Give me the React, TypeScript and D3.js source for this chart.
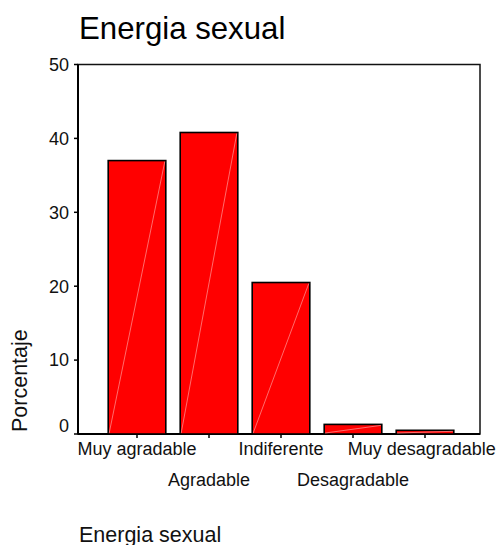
import React from "react";
import * as d3 from "d3";

const categories = ["Muy agradable", "Agradable", "Indiferente", "Desagradable", "Muy desagradable"];
const percentages = [37.0, 40.8, 20.5, 1.3, 0.5];
const yTicks = [0, 10, 20, 30, 40, 50];
const title = "Energia sexual";
const yLabel = "Porcentaje";
const xTitle = "Energia sexual";

const W = 499;
const H = 545;
const left = 78;
const right = 480;
const top = 64.5;
const bottom = 434;
const font = "'Liberation Sans', Arial, Helvetica, sans-serif";

export default function App() {
  const x = d3
    .scaleBand<string>()
    .domain(categories)
    .range([101, 461])
    .paddingInner(0.2)
    .paddingOuter(0.1);
  const y = d3.scaleLinear().domain([0, 50]).range([bottom, top]);

  return (
    <svg
      width={W}
      height={H}
      style={{ position: "absolute", left: 0, top: 0, background: "#fff" }}
      fontFamily={font}
    >
      <text x={79} y={39} fontSize={31.2} fill="#000">
        {title}
      </text>

      {/* frame */}
      <rect x={left} y={top} width={right - left} height={bottom - top} fill="none" stroke="#111" strokeWidth={1.5} />
      <line x1={left} x2={left} y1={top} y2={bottom} stroke="#000" strokeWidth={2} />
      <line x1={left} x2={right} y1={bottom} y2={bottom} stroke="#000" strokeWidth={2} />

      {/* y ticks */}
      {yTicks.map((t, i) => (
        <g key={t}>
          <line x1={left - 4} x2={left} y1={y(t)} y2={y(t)} stroke="#000" strokeWidth={1.5} />
          <text
            x={69}
            y={y(t) - (i === 0 ? 8.5 : 0)}
            dy="0.35em"
            textAnchor="end"
            fontSize={18}
            fill="#111"
          >
            {t}
          </text>
        </g>
      ))}

      {/* bars */}
      {categories.map((c, i) => {
        const x0 = x(c) as number;
        const bw = x.bandwidth();
        const yt = y(percentages[i]);
        return (
          <g key={c}>
            <rect x={x0} y={yt} width={bw} height={bottom - yt} fill="#ff0000" stroke="#000" strokeWidth={1.6} />
            <line x1={x0 + 1} y1={bottom - 1} x2={x0 + bw - 1} y2={yt + 1} stroke="#ffb4b4" strokeWidth={0.6} />
          </g>
        );
      })}

      {/* x ticks and labels */}
      {categories.map((c, i) => {
        const cx = (x(c) as number) + x.bandwidth() / 2;
        const lx = Math.min(cx, 421.7);
        return (
          <g key={c + "t"}>
            <line x1={cx} x2={cx} y1={bottom} y2={bottom + 4} stroke="#000" strokeWidth={1.5} />
            <text x={lx} y={i % 2 === 0 ? 455 : 486} textAnchor="middle" fontSize={18} fill="#111">
              {c}
            </text>
          </g>
        );
      })}

      <text transform={`translate(27,432) rotate(-90)`} fontSize={21.5} fill="#111">
        {yLabel}
      </text>

      <text x={79} y={541.5} fontSize={21.5} fill="#111">
        {xTitle}
      </text>
    </svg>
  );
}
